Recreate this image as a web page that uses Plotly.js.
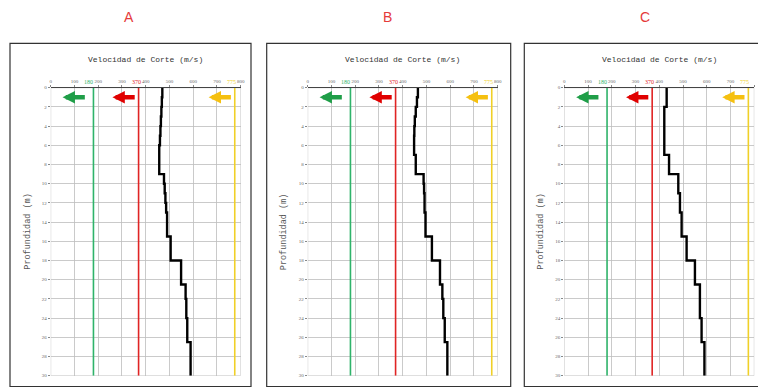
<!DOCTYPE html>
<html>
<head>
<meta charset="utf-8">
<script src="https://cdn.plot.ly/plotly-3.0.1.min.js"></script>
<style>html,body{margin:0;padding:0;background:#fff;}#chart{width:758px;height:388px;}</style>
</head>
<body>
<div id="chart"></div>
<script>
// ---- data ----
const panelNames = ['A', 'B', 'C'];
const depthA = [0, 1, 2, 3, 4, 5, 6, 7, 9, 10, 11, 12, 13, 15.5, 18, 20.5, 22, 24, 26.5, 30];
const vsA    = [470, 468, 466, 464, 462, 460, 457, 457, 477, 480, 483, 486, 490, 505, 549, 568, 571, 575, 589, 589];
const depthB = [0, 1, 2, 3, 4, 5, 7, 9, 10, 11, 13, 15.5, 18, 20.5, 22, 24, 26.5, 30];
const vsB    = [464, 460, 455, 451, 449, 448, 455, 488, 490, 492, 496, 523, 557, 567, 571, 577, 588, 588];
const depthC = [0, 2, 7, 9, 11, 13, 15.5, 18, 20.5, 24, 26.5, 30];
const vsC    = [431, 421, 441, 480, 487, 494, 515, 550, 571, 578, 590, 590];
const limitValues = [180, 370, 775];
const limitLabels = ['180', '370', '775'];
const limitLabelEnd = [183, 383, 783];
const limitColors = ['#2fb36a', '#e02424', '#f0d028'];
const arrowColors = ['#1f9e48', '#e00000', '#f5c010'];
const arrowTail = [150, 360, 765];
const arrowTip = [50, 260, 665];
const arrowDepth = 1;
const xTicks = [0, 100, 200, 300, 400, 500, 600, 700, 800];
const yTicks = [0, 2, 4, 6, 8, 10, 12, 14, 16, 18, 20, 22, 24, 26, 28, 30];
const titleX = 'Velocidad de Corte (m/s)';
const titleY = 'Profundidad (m)';

// ---- layout geometry ----
const W = 758, H = 388;
const plotLeft = [50.7, 307.7, 564.3];
const plotWidth = 190;
const plotTop = 87.7, plotBottom = 375.7;
const boxes = [[10, 251], [266.7, 510.7], [524.3, 775]];
const boxTop = 43.3, boxBottom = 386.5;
const letterX = [129, 387, 645];
const yTitleX = [28, 283.5, 541];

const profiles = [[depthA, vsA], [depthB, vsB], [depthC, vsC]];
const px = v => v / W;
const py = v => 1 - v / H;

const traces = [];
const layout = {
  width: W, height: H,
  margin: {l: 0, r: 0, t: 0, b: 0},
  paper_bgcolor: '#fff', plot_bgcolor: '#fff',
  showlegend: false,
  shapes: [], annotations: []
};

profiles.forEach((p, i) => {
  const xa = i === 0 ? 'x' : 'x' + (i + 1);
  const ya = i === 0 ? 'y' : 'y' + (i + 1);
  const xk = i === 0 ? 'xaxis' : 'xaxis' + (i + 1);
  const yk = i === 0 ? 'yaxis' : 'yaxis' + (i + 1);
  layout[xk] = {
    domain: [px(plotLeft[i]), px(plotLeft[i] + plotWidth)],
    anchor: ya, side: 'top', range: [0, 800],
    tickvals: xTicks, ticktext: xTicks.map(String),
    ticks: 'outside', ticklen: 2, tickcolor: '#888',
    tickfont: {size: 5, color: '#666', family: 'Liberation Serif'},
    showgrid: true, gridcolor: '#bdbdbd', gridwidth: 0.8,
    zeroline: false, showline: true, linecolor: '#444', linewidth: 1,
    fixedrange: true
  };
  layout[yk] = {
    domain: [py(plotBottom), py(plotTop)],
    anchor: xa, range: [30, 0],
    tickvals: yTicks, ticktext: yTicks.map(String),
    ticks: 'outside', ticklen: 2, tickcolor: '#888',
    tickfont: {size: 5, color: '#666', family: 'Liberation Serif'},
    showgrid: true, gridcolor: '#bdbdbd', gridwidth: 0.8,
    zeroline: false, showline: false, fixedrange: true
  };
  // plot edge frame
  layout.shapes.push({type: 'rect', xref: xa, yref: ya, x0: 0, x1: 800, y0: 0, y1: 30,
    line: {color: '#bdbdbd', width: 0.8}, layer: 'below'});
  // limit lines
  limitValues.forEach((lv, k) => {
    traces.push({
      type: 'scatter', mode: 'lines', xaxis: xa, yaxis: ya,
      x: [lv, lv], y: [0, 30], line: {color: limitColors[k], width: 1.6},
      hoverinfo: 'skip'
    });
    layout.annotations.push({
      xref: xa, yref: 'paper', x: limitLabelEnd[k], y: py(81.5), xanchor: 'right', yanchor: 'middle',
      text: limitLabels[k],
      showarrow: false, font: {size: 6, color: limitColors[k], family: 'Liberation Serif'},
      borderpad: 0
    });
    layout.annotations.push({
      xref: xa, yref: ya, axref: xa, ayref: ya,
      x: arrowTip[k], y: arrowDepth, ax: arrowTail[k], ay: arrowDepth,
      text: '', showarrow: true, arrowhead: 2, arrowsize: 0.55, arrowwidth: 4.5,
      arrowcolor: arrowColors[k], standoff: 0
    });
  });
  // Vs profile
  traces.push({
    type: 'scatter', mode: 'lines', xaxis: xa, yaxis: ya,
    x: p[1], y: p[0], line: {color: '#000', width: 2.4, shape: 'vh'},
    hoverinfo: 'x+y'
  });
  // panel frame
  layout.shapes.push({type: 'rect', xref: 'paper', yref: 'paper',
    x0: px(boxes[i][0]), x1: px(boxes[i][1]), y0: py(boxBottom), y1: py(boxTop),
    line: {color: '#333', width: 1.2}});
  // panel letter
  layout.annotations.push({xref: 'paper', yref: 'paper', x: px(letterX[i]), y: py(17),
    xanchor: 'center', yanchor: 'middle',
    text: panelNames[i], showarrow: false,
    font: {size: 14, color: '#e53a3a', family: 'Liberation Sans'}});
  // axis titles
  layout.annotations.push({xref: 'paper', yref: 'paper',
    x: px(plotLeft[i] + plotWidth / 2), y: py(59), xanchor: 'center', yanchor: 'middle',
    text: titleX, showarrow: false,
    font: {size: 8, color: '#333', family: 'Liberation Mono'}});
  layout.annotations.push({xref: 'paper', yref: 'paper',
    x: px(yTitleX[i]), y: py((plotTop + plotBottom) / 2), xanchor: 'center', yanchor: 'middle',
    text: titleY, showarrow: false,
    textangle: -90, font: {size: 8.5, color: '#555', family: 'Liberation Mono'}});
});

Plotly.newPlot('chart', traces, layout, {displayModeBar: false, staticPlot: true});
</script>
</body>
</html>
